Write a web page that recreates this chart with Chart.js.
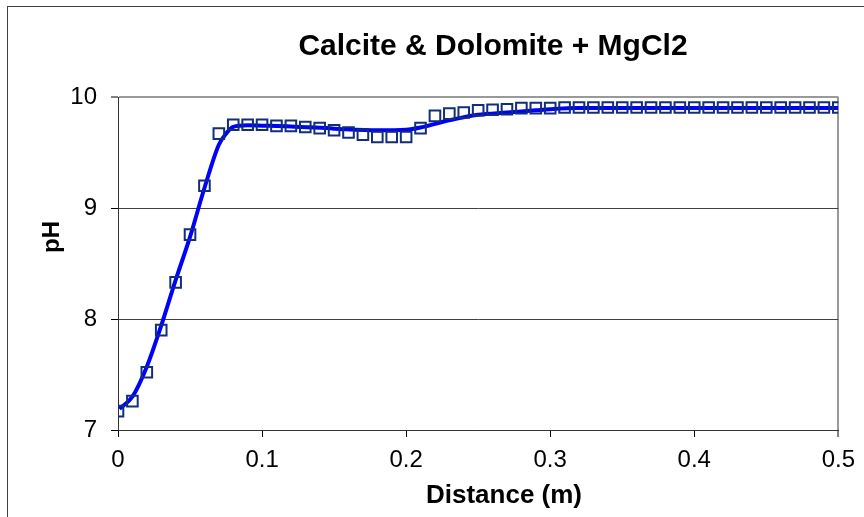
<!DOCTYPE html>
<html>
<head>
<meta charset="utf-8">
<script src="https://cdn.jsdelivr.net/npm/chart.js@4.4.1/dist/chart.umd.min.js"></script>
<style>
  html, body { margin: 0; padding: 0; background: #fff; }
  #wrap { width: 864px; height: 517px; }
</style>
</head>
<body>
<div id="wrap"><canvas id="chart_ph"></canvas></div>
<script>
var chartTitle = 'Calcite & Dolomite + MgCl2'
var xTitle = 'Distance (m)'
var yTitle = 'pH'

// measured points (squares), one every 0.01 m
var obsX = [0, 0.01, 0.02, 0.03, 0.04, 0.05, 0.06, 0.07, 0.08, 0.09,
            0.10, 0.11, 0.12, 0.13, 0.14, 0.15, 0.16, 0.17, 0.18, 0.19,
            0.20, 0.21, 0.22, 0.23, 0.24, 0.25, 0.26, 0.27, 0.28, 0.29,
            0.30, 0.31, 0.32, 0.33, 0.34, 0.35, 0.36, 0.37, 0.38, 0.39,
            0.40, 0.41, 0.42, 0.43, 0.44, 0.45, 0.46, 0.47, 0.48, 0.49, 0.50]
var obsPH = [7.17, 7.26, 7.52, 7.90, 8.33, 8.76, 9.20, 9.67, 9.75, 9.75,
             9.75, 9.74, 9.74, 9.73, 9.72, 9.70, 9.68, 9.66, 9.64, 9.64,
             9.64, 9.72, 9.83, 9.85, 9.86, 9.88, 9.885, 9.89, 9.90, 9.90,
             9.90, 9.905, 9.905, 9.905, 9.905, 9.905, 9.905, 9.905, 9.905, 9.905,
             9.905, 9.905, 9.905, 9.905, 9.905, 9.905, 9.905, 9.905, 9.905, 9.905, 9.905]

// model curve (blue line)
var modelX = [0.001, 0.01, 0.02, 0.03, 0.04, 0.05, 0.06, 0.07, 0.075, 0.08,
              0.09, 0.10, 0.12, 0.15, 0.18, 0.20, 0.21, 0.23, 0.25, 0.27,
              0.29, 0.30, 0.32, 0.35, 0.40, 0.45, 0.50]
var modelPH = [7.19, 7.30, 7.57, 7.94, 8.35, 8.74, 9.18, 9.57, 9.67, 9.73,
               9.745, 9.742, 9.735, 9.715, 9.70, 9.705, 9.725, 9.79, 9.84, 9.86,
               9.88, 9.89, 9.90, 9.90, 9.90, 9.90, 9.90]

var xTicks = [0, 0.1, 0.2, 0.3, 0.4, 0.5]
var yTicks = [7, 8, 9, 10]

var fontFam = '"Liberation Sans", Arial, sans-serif'

var framePlugin = {
    id: 'frame',
    beforeDraw: function(chart) {
        var c = chart.ctx
        c.save()
        c.fillStyle = '#fff'
        c.fillRect(0, 0, chart.width, chart.height)
        c.strokeStyle = '#404040'
        c.lineWidth = 1
        c.strokeRect(7.5, 6.5, chart.width + 20, chart.height + 20)
        c.restore()
    },
    afterDraw: function(chart) {
        var c = chart.ctx
        c.save()
        c.fillStyle = '#000'
        c.textAlign = 'center'
        c.textBaseline = 'alphabetic'
        c.font = 'bold 30px ' + fontFam
        c.fillText(chartTitle, 493, 55)
        c.font = 'bold 26px ' + fontFam
        c.fillText(xTitle, 504, 503)
        c.translate(59, 237)
        c.rotate(-Math.PI / 2)
        c.font = 'bold 24px ' + fontFam
        c.fillText(yTitle, 0, 0)
        c.restore()
    }
}

var ctx = document.getElementById('chart_ph')

var chartLine = new Chart(ctx, {
    type: 'scatter',
    data: {
        datasets: [
            {
                label: 'Model',
                data: modelX.map(function(x, i) { return {x: x, y: modelPH[i]} }),
                showLine: true,
                borderColor: '#0000ff',
                borderWidth: 4,
                pointRadius: 0,
                cubicInterpolationMode: 'monotone',
                fill: false,
                order: 2
            },
            {
                label: 'Measured',
                data: obsX.map(function(x, i) { return {x: x, y: obsPH[i]} }),
                showLine: false,
                pointStyle: 'rect',
                pointRadius: 7.5,
                borderWidth: 2,
                borderColor: '#102f78',
                backgroundColor: 'rgba(0,0,0,0)',
                order: 1
            }
        ]
    },
    options: {
        responsive: true,
        maintainAspectRatio: false,
        animation: false,
        layout: {
            padding: {left: 0, top: 97, right: 25, bottom: 0}
        },
        plugins: {
            legend: {display: false},
            tooltip: {enabled: false},
            title: {display: false}
        },
        scales: {
            x: {
                type: 'linear',
                min: 0,
                max: 0.5,
                afterFit: function(scale) { scale.height = 87 },
                afterBuildTicks: function(scale) {
                    scale.ticks = xTicks.map(function(v) { return {value: v} })
                },
                border: {color: '#333', width: 1},
                grid: {
                    drawOnChartArea: true,
                    tickLength: 7,
                    tickColor: '#000',
                    tickWidth: 1,
                    color: function(c) { return c.tick && c.tick.value === 0.5 ? '#999' : 'rgba(0,0,0,0)' },
                    lineWidth: function(c) { return c.tick && c.tick.value === 0.5 ? 2 : 1 }
                },
                ticks: {
                    padding: 9,
                    color: '#000',
                    font: {family: fontFam, size: 24},
                    callback: function(value) { return String(Math.round(value * 10) / 10) }
                }
            },
            y: {
                min: 7,
                max: 10,
                afterFit: function(scale) { scale.width = 118 },
                afterBuildTicks: function(scale) {
                    scale.ticks = yTicks.map(function(v) { return {value: v} })
                },
                border: {color: '#333', width: 1},
                grid: {
                    tickLength: 7,
                    tickColor: '#000',
                    tickWidth: 1,
                    color: function(c) { return c.tick && c.tick.value === 10 ? '#999' : '#404040' },
                    lineWidth: function(c) { return c.tick && c.tick.value === 10 ? 2 : 1 }
                },
                ticks: {
                    padding: 14,
                    color: '#000',
                    font: {family: fontFam, size: 24}
                }
            }
        }
    },
    plugins: [framePlugin]
});
</script>
</body>
</html>
